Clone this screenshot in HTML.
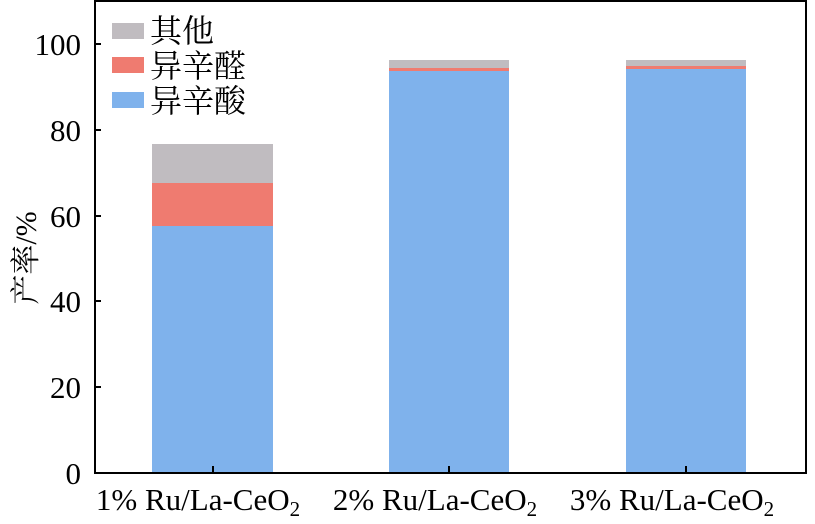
<!DOCTYPE html>
<html><head><meta charset="utf-8"><style>body{margin:0;background:#fff}</style></head><body>
<svg width="815" height="519" xmlns="http://www.w3.org/2000/svg" font-family="'Liberation Serif','Noto Serif CJK SC',serif">
<rect x="0" y="0" width="815" height="519" fill="#fff"/>
<g>
<rect x="152" y="226" width="121" height="247" fill="#7fb2ec"/>
<rect x="152" y="183" width="121" height="43" fill="#ef7b70"/>
<rect x="152" y="144" width="121" height="39" fill="#c0bcc0"/>
<rect x="389" y="71" width="120" height="402" fill="#7fb2ec"/>
<rect x="389" y="68" width="120" height="3" fill="#ef7b70"/>
<rect x="389" y="60" width="120" height="8" fill="#c0bcc0"/>
<rect x="626" y="69" width="120" height="404" fill="#7fb2ec"/>
<rect x="626" y="66" width="120" height="3" fill="#ef7b70"/>
<rect x="626" y="60" width="120" height="6" fill="#c0bcc0"/>
</g>
<rect x="95" y="1" width="711" height="472" fill="none" stroke="#000" stroke-width="2"/>
<g stroke="#000" stroke-width="2">
<line x1="95" y1="44" x2="101" y2="44"/>
<line x1="95" y1="130" x2="101" y2="130"/>
<line x1="95" y1="216" x2="101" y2="216"/>
<line x1="95" y1="301" x2="101" y2="301"/>
<line x1="95" y1="387" x2="101" y2="387"/>
<line x1="95" y1="473" x2="101" y2="473"/>
<line x1="213" y1="473" x2="213" y2="466"/>
<line x1="449" y1="473" x2="449" y2="466"/>
<line x1="686" y1="473" x2="686" y2="466"/>
</g>
<g font-size="31" text-anchor="end" fill="#000">
<text x="81" y="55">100</text>
<text x="81" y="141">80</text>
<text x="81" y="227">60</text>
<text x="81" y="312">40</text>
<text x="81" y="398">20</text>
<text x="81" y="484">0</text>
</g>
<text transform="translate(36,258) rotate(-90)" font-size="30" text-anchor="middle">产率/%</text>
<g font-size="31" text-anchor="middle">
<text x="198" y="510">1% Ru/La-CeO<tspan font-size="21" dy="6">2</tspan></text>
<text x="435" y="510">2% Ru/La-CeO<tspan font-size="21" dy="6">2</tspan></text>
<text x="672" y="510">3% Ru/La-CeO<tspan font-size="21" dy="6">2</tspan></text>
</g>
<rect x="112" y="23" width="32" height="16" fill="#c0bcc0"/>
<rect x="112" y="57" width="32" height="16" fill="#ef7b70"/>
<rect x="112" y="92" width="32" height="16" fill="#7fb2ec"/>
<g font-size="32" font-family="'Noto Serif CJK SC','Noto Sans CJK SC',serif">
<text x="150" y="42">其他</text>
<text x="150" y="77">异辛醛</text>
<text x="150" y="112">异辛酸</text>
</g>
</svg>
</body></html>
